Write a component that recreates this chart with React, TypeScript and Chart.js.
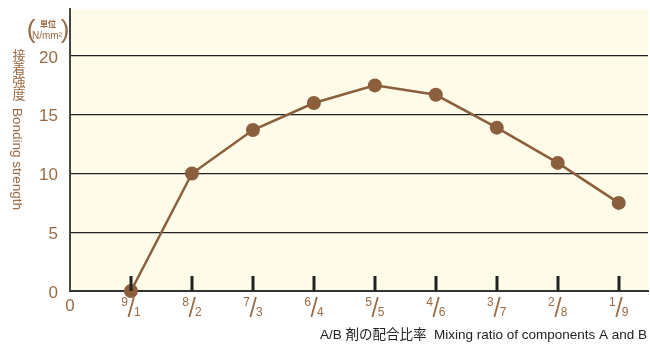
import React, { useEffect, useRef } from "react";
import { Chart, registerables } from "chart.js";

Chart.register(...registerables);

// A/B mixing ratios (A / B) and bonding strength in N/mm²
const ratioNumerators = [9, 8, 7, 6, 5, 4, 3, 2, 1];
const ratioDenominators = [1, 2, 3, 4, 5, 6, 7, 8, 9];
const bondingStrength = [0, 10, 13.7, 16, 17.5, 16.7, 13.9, 10.9, 7.5];
const yTicks = [0, 5, 10, 15, 20];

const BROWN = "#8B5E3C";
const LABEL_BROWN = "#9A6A44";
const SANS = "'Liberation Sans', Arial, sans-serif";
const MIXED = "'Liberation Sans', 'Noto Sans CJK JP', sans-serif";

const decorations = {
  id: "decorations",
  beforeDraw(chart: any) {
    const { ctx, chartArea } = chart;
    ctx.save();
    ctx.fillStyle = "#FEFBE9";
    ctx.fillRect(chartArea.left, chartArea.top, chartArea.right - chartArea.left, chartArea.bottom - chartArea.top);
    ctx.restore();
  },
  afterDraw(chart: any) {
    const { ctx, chartArea } = chart;
    const xs = chart.scales.x;
    const ys = chart.scales.y;
    const bottom = chartArea.bottom;
    ctx.save();

    // y tick labels
    ctx.fillStyle = LABEL_BROWN;
    ctx.font = `17px ${SANS}`;
    ctx.textAlign = "right";
    ctx.textBaseline = "middle";
    yTicks.forEach((v) => ctx.fillText(String(v), 58, ys.getPixelForValue(v) + 2));

    // tick marks standing on the x axis
    ctx.strokeStyle = "#222";
    ctx.lineWidth = 3;
    ratioNumerators.forEach((_, i) => {
      const px = Math.round(xs.getPixelForValue(i + 1));
      ctx.beginPath();
      ctx.moveTo(px, bottom - 15);
      ctx.lineTo(px, bottom);
      ctx.stroke();
    });

    // fraction labels
    ctx.fillStyle = LABEL_BROWN;
    ctx.textBaseline = "middle";
    ratioNumerators.forEach((n, i) => {
      const cx = xs.getPixelForValue(i + 1);
      ctx.font = `12px ${SANS}`;
      ctx.textAlign = "right";
      ctx.fillText(String(n), cx - 3, bottom + 12);
      ctx.textAlign = "left";
      ctx.fillText(String(ratioDenominators[i]), cx + 3, bottom + 22);
      ctx.beginPath();
      ctx.strokeStyle = LABEL_BROWN;
      ctx.lineWidth = 1.8;
      ctx.moveTo(cx + 3, bottom + 6);
      ctx.lineTo(cx - 2.5, bottom + 26);
      ctx.stroke();
    });

    // origin label
    ctx.font = `17px ${SANS}`;
    ctx.textAlign = "center";
    ctx.fillText("0", xs.getPixelForValue(0), bottom + 15);

    // x axis title
    ctx.fillStyle = "#222";
    ctx.textAlign = "right";
    ctx.textBaseline = "alphabetic";
    ctx.font = `13.5px ${MIXED}`;
    ctx.fillText("A/B 剤の配合比率  Mixing ratio of components A and B", 647, 339);

    // y axis title: upright kanji, then rotated latin
    ctx.fillStyle = LABEL_BROWN;
    ctx.font = `13px ${MIXED}`;
    ctx.textAlign = "center";
    ctx.textBaseline = "middle";
    const kanji = ["接", "着", "強", "度"];
    kanji.forEach((k, i) => ctx.fillText(k, 19, 56 + i * 13.3));
    ctx.save();
    ctx.translate(13, 108);
    ctx.rotate(Math.PI / 2);
    ctx.textAlign = "left";
    ctx.textBaseline = "alphabetic";
    ctx.font = `13.5px ${SANS}`;
    ctx.fillText("Bonding strength", 0, 0);
    ctx.restore();

    // unit label
    ctx.font = `300 26px ${SANS}`;
    ctx.textAlign = "center";
    ctx.textBaseline = "middle";
    ctx.fillText("(", 31, 31);
    ctx.fillText(")", 65, 31);
    ctx.font = `bold 8px ${MIXED}`;
    ctx.fillText("単位", 48, 25);
    ctx.font = `10px ${SANS}`;
    ctx.fillText("N/mm²", 47, 36);

    ctx.restore();
  },
};

export default function App() {
  const canvasRef = useRef<HTMLCanvasElement>(null);

  useEffect(() => {
    document.body.style.margin = "0";
    const canvas = canvasRef.current;
    if (!canvas) return;
    const chart = new Chart(canvas, {
      type: "line",
      data: {
        datasets: [
          {
            data: bondingStrength.map((v, i) => ({ x: i + 1, y: v })),
            borderColor: BROWN,
            backgroundColor: BROWN,
            borderWidth: 2.5,
            pointRadius: 7,
            pointHoverRadius: 7,
            pointBorderWidth: 0,
            pointBackgroundColor: BROWN,
            clip: false as any,
          },
        ],
      },
      options: {
        animation: false,
        responsive: false,
        events: [],
        layout: { autoPadding: false, padding: { left: 0, top: 9, right: 2, bottom: 53 } },
        plugins: { legend: { display: false }, tooltip: { enabled: false } },
        scales: {
          x: {
            type: "linear",
            min: 0,
            max: 9.48,
            ticks: { display: false },
            grid: { display: false, drawTicks: false },
            border: { display: true, color: "#333", width: 2 },
          },
          y: {
            type: "linear",
            min: 0,
            max: 24,
            afterFit: (scale: any) => {
              scale.width = 70;
            },
            afterBuildTicks: (scale: any) => {
              scale.ticks = yTicks.map((v) => ({ value: v }));
            },
            ticks: { display: false },
            grid: {
              drawTicks: false,
              color: (c: any) => (c.tick && c.tick.value === 0 ? "rgba(0,0,0,0)" : "#222"),
              lineWidth: 1.2,
            },
            border: { display: true, color: "#444", width: 2 },
          },
        },
      },
      plugins: [decorations],
    });
    return () => chart.destroy();
  }, []);

  return (
    <div style={{ width: 650, height: 344 }}>
      <canvas ref={canvasRef} width={650} height={344} style={{ display: "block" }} />
    </div>
  );
}
